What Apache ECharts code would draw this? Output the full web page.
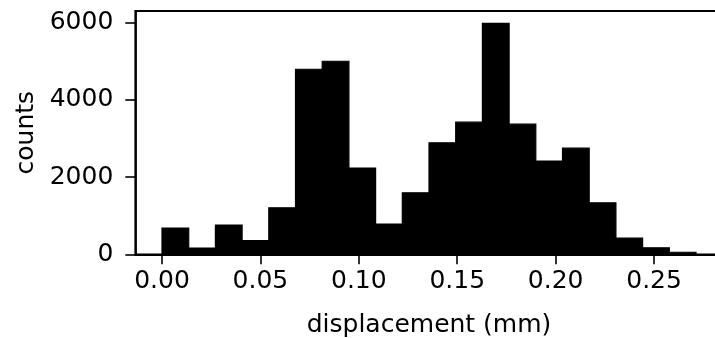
<!DOCTYPE html>
<html>
<head>
<meta charset="utf-8">
<script src="https://cdn.jsdelivr.net/npm/echarts@6/dist/echarts.min.js"></script>
<style>
  html, body { margin: 0; padding: 0; background: #fff; }
  #chart { width: 715px; height: 338px; }
</style>
</head>
<body>
<div id="chart"></div>
<script>
// bin edges (mm) and counts per bin
const binEdges = [0, 0.01357, 0.02713, 0.0407, 0.05426, 0.06783, 0.08139, 0.09496, 0.10852, 0.12209,
  0.13565, 0.14922, 0.16278, 0.17635, 0.18991, 0.20348, 0.21704, 0.23061, 0.24417, 0.25774, 0.2713];
const counts = [680, 163, 758, 352, 1206, 4792, 4999, 2232, 784, 1594,
  2887, 3421, 5981, 3370, 2413, 2749, 1335, 418, 170, 53];
const xTicks = [0, 0.05, 0.1, 0.15, 0.2, 0.25];
const yTicks = [0, 2000, 4000, 6000];

const bins = counts.map((c, i) => [binEdges[i], binEdges[i + 1], c]);

const font = 'DejaVu Sans';
const myChart = echarts.init(document.getElementById('chart'), null, { renderer: 'canvas' });

const option = {
  animation: false,
  backgroundColor: '#fff',
  grid: {
    left: 135.3,
    top: 11,
    width: 587.4,
    height: 243.3,
    show: true,
    borderColor: '#000',
    borderWidth: 1.8,
    containLabel: false,
    outerBoundsMode: 'none'
  },
  xAxis: {
    type: 'value',
    min: -0.013565,
    max: 0.284865,
    name: 'displacement (mm)',
    nameLocation: 'middle',
    nameGap: 59,
    nameTextStyle: { fontFamily: font, fontSize: 25, color: '#000' },
    splitLine: { show: false },
    axisLine: { show: true, onZero: false, lineStyle: { color: '#000', width: 1.8 } },
    axisTick: { show: true, customValues: xTicks, length: 10, lineStyle: { color: '#000', width: 1.6 } },
    axisLabel: {
      customValues: xTicks,
      margin: 15,
      fontFamily: font,
      fontSize: 25,
      color: '#000',
      formatter: v => v.toFixed(2)
    }
  },
  yAxis: {
    type: 'value',
    min: 0,
    max: 6300,
    name: 'counts',
    nameLocation: 'middle',
    nameRotate: 90,
    nameGap: 84,
    nameTextStyle: { fontFamily: font, fontSize: 25, color: '#000' },
    splitLine: { show: false },
    axisLine: { show: true, onZero: false, lineStyle: { color: '#000', width: 1.8 } },
    axisTick: { show: true, customValues: yTicks, length: 10, lineStyle: { color: '#000', width: 1.6 } },
    axisLabel: {
      customValues: yTicks,
      margin: 22,
      fontFamily: font,
      fontSize: 25,
      color: '#000',
      formatter: v => String(v)
    }
  },
  series: [
    {
      type: 'custom',
      data: bins,
      encode: { x: [0, 1], y: 2 },
      renderItem: (params, api) => {
        const p0 = api.coord([api.value(0), api.value(2)]);
        const p1 = api.coord([api.value(1), 0]);
        return {
          type: 'rect',
          shape: { x: p0[0], y: p0[1], width: p1[0] - p0[0], height: p1[1] - p0[1] },
          style: { fill: '#000', stroke: '#000', lineWidth: 1.2 }
        };
      }
    }
  ]
};

myChart.setOption(option);
</script>
</body>
</html>
